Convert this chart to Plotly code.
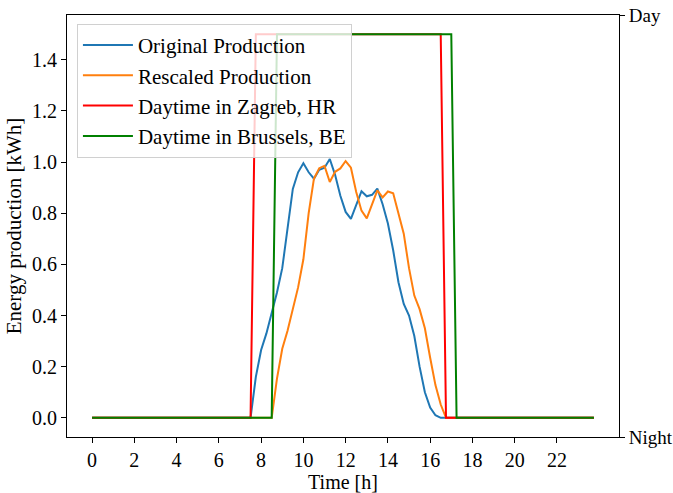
import plotly.graph_objects as go

# Time axis: 15-minute steps over one day
hours = [i * 0.25 for i in range(96)]

# Original production (Zagreb), nonzero part from 7.5 h to 16.5 h
original_day = [0.0, 0.16, 0.265, 0.33, 0.41, 0.49, 0.585, 0.75, 0.895, 0.96,
                0.995, 0.96, 0.935, 0.97, 0.978, 1.012, 0.95, 0.868, 0.805, 0.778,
                0.83, 0.886, 0.866, 0.872, 0.896, 0.835, 0.76, 0.655, 0.53, 0.445,
                0.40, 0.32, 0.20, 0.10, 0.04, 0.01, 0.0]
original = [0.0] * 30 + original_day + [0.0] * 29

# Rescaled production (Brussels), nonzero part from 8.5 h to 16.75 h
rescaled_day = [0.0, 0.153, 0.27, 0.34, 0.42, 0.51, 0.62, 0.80, 0.935, 0.976,
                0.985, 0.922, 0.962, 0.975, 1.004, 0.978, 0.883, 0.81, 0.78, 0.836,
                0.889, 0.862, 0.885, 0.878, 0.80, 0.72, 0.585, 0.478, 0.425, 0.35,
                0.235, 0.128, 0.052, 0.0]
rescaled = [0.0] * 34 + rescaled_day + [0.0] * 29

# Daytime indicators (drawn at 1.5 on the energy axis)
zagreb_day = [0.0] * 31 + [1.5] * 36 + [0.0] * 29      # 7.75 h .. 16.5 h
brussels_day = [0.0] * 35 + [1.5] * 34 + [0.0] * 27    # 8.75 h .. 17.0 h

y_ticks = [0.0, 0.2, 0.4, 0.6, 0.8, 1.0, 1.2, 1.4]
x_ticks = [0, 2, 4, 6, 8, 10, 12, 14, 16, 18, 20, 22]
right_ticks = [0, 1]
right_labels = ["Night", "Day"]

FONT = "Liberation Serif, Times New Roman, serif"

fig = go.Figure()
fig.add_trace(go.Scatter(x=hours, y=original, mode="lines", name="Original Production",
                         line=dict(color="#1f77b4", width=2)))
fig.add_trace(go.Scatter(x=hours, y=rescaled, mode="lines", name="Rescaled Production",
                         line=dict(color="#ff7f0e", width=2)))
fig.add_trace(go.Scatter(x=hours, y=zagreb_day, mode="lines", name="Daytime in Zagreb, HR",
                         line=dict(color="#ff0000", width=2)))
fig.add_trace(go.Scatter(x=hours, y=brussels_day, mode="lines", name="Daytime in Brussels, BE",
                         line=dict(color="#008000", width=2)))
# invisible trace to carry the right-hand axis
fig.add_trace(go.Scatter(x=[hours[0]], y=[0], yaxis="y2", mode="markers",
                         marker=dict(opacity=0), showlegend=False, hoverinfo="skip"))

fig.update_layout(
    width=673, height=493, autosize=False,
    margin=dict(l=67, r=54, t=15, b=56),
    paper_bgcolor="white", plot_bgcolor="white",
    font=dict(family=FONT, size=20, color="black"),
    showlegend=True,
    legend=dict(x=0.018, y=0.979, xanchor="left", yanchor="top",
                bgcolor="rgba(255,255,255,0.8)", bordercolor="#d0d0d0", borderwidth=1,
                font=dict(family=FONT, size=21), tracegroupgap=0,
                itemwidth=50, entrywidth=235, entrywidthmode="pixels"),
    xaxis=dict(range=[-1.1875, 24.9375], tickvals=x_ticks, ticks="outside", ticklen=5,
               tickwidth=1, tickcolor="black", showgrid=False, zeroline=False,
               showline=True, linecolor="black", linewidth=1, mirror=True,
               automargin=False,
               title=dict(text="Time [h]", standoff=0, font=dict(size=20))),
    yaxis=dict(range=[-0.075, 1.575], tickvals=y_ticks, tickformat=".1f", ticks="outside",
               ticklen=5, tickwidth=1, tickcolor="black", showgrid=False, zeroline=False,
               showline=True, linecolor="black", linewidth=1, automargin=False,
               title=dict(text="Energy production [kWh]", standoff=4, font=dict(size=21))),
    yaxis2=dict(range=[0, 1], overlaying="y", side="right", tickvals=right_ticks,
                ticktext=right_labels, ticks="outside", ticklen=5, tickwidth=1,
                tickcolor="black", showgrid=False, zeroline=False, showline=True,
                linecolor="black", linewidth=1, automargin=False,
                tickfont=dict(size=19)),
)

fig.write_html("out.html")
